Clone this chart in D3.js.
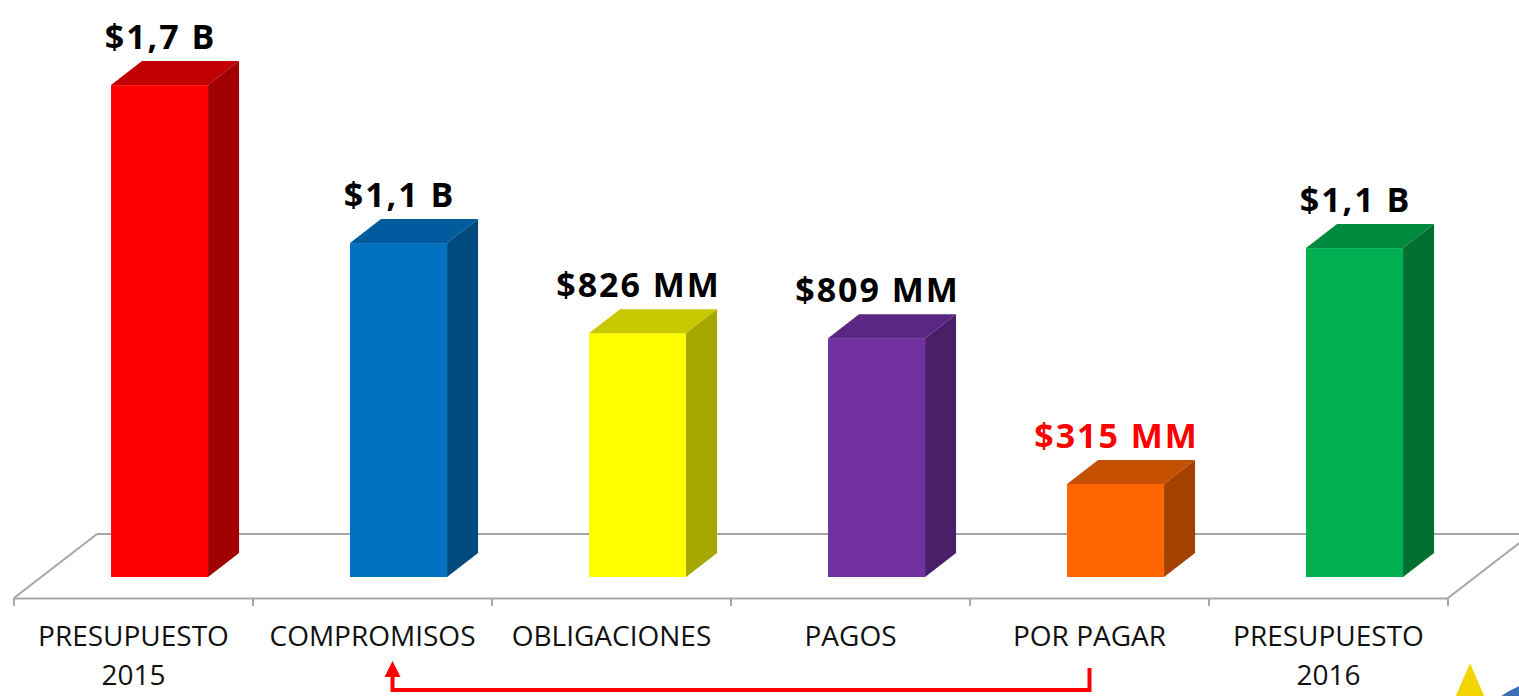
<!DOCTYPE html>
<html>
<head>
<meta charset="utf-8">
<script src="https://cdn.jsdelivr.net/npm/d3@7"></script>
<style>
  html, body { margin: 0; padding: 0; background: #fff; }
  svg { display: block; }
</style>
</head>
<body>
<svg id="chart" width="1519" height="696"></svg>
<script>
// ---- data ----
const categories = ["PRESUPUESTO 2015", "COMPROMISOS", "OBLIGACIONES", "PAGOS", "POR PAGAR", "PRESUPUESTO 2016"];
const categoryLines = [["PRESUPUESTO", "2015"], ["COMPROMISOS"], ["OBLIGACIONES"], ["PAGOS"], ["POR PAGAR"], ["PRESUPUESTO", "2016"]];
const values = [1666, 1131, 826, 809, 315, 1114];          // millions
const valueLabels = ["$1,7 B", "$1,1 B", "$826 MM", "$809 MM", "$315 MM", "$1,1 B"];

// ---- styles ----
const frontColors = ["#FF0000", "#0070C0", "#FFFF00", "#7030A0", "#FF6600", "#00B050"];
const topColors   = ["#C00000", "#005A9E", "#C8C800", "#5A2782", "#C55000", "#008A3E"];
const sideColors  = ["#A00000", "#004A80", "#A6A600", "#4A1F69", "#A34200", "#007030"];
const labelColors = ["#000", "#000", "#000", "#000", "#FF0000", "#000"];

const svg = d3.select("#chart");

// ---- scales ----
const x = d3.scaleBand().domain(categories).range([14, 1448]).padding(0);
const bw = x.bandwidth();
const yBase = 577;
const y = d3.scaleLinear().domain([0, 1700]).range([yBase, yBase - 1700 / 3.387]);

const frontY = 598, floorDx = 83, floorDy = 64;
const barDx = 31, barDy = 24;
const gridColor = "#A6A6A6";

// ---- floor ----
const floor = svg.append("g").attr("stroke", gridColor).attr("stroke-width", 2).attr("fill", "none");
const xL = x.range()[0], xR = x.range()[1];
floor.append("line").attr("x1", xL + floorDx).attr("y1", frontY - floorDy).attr("x2", xR + floorDx).attr("y2", frontY - floorDy);
floor.append("line").attr("x1", xL).attr("y1", frontY).attr("x2", xL + floorDx).attr("y2", frontY - floorDy);
floor.append("line").attr("x1", xR).attr("y1", frontY).attr("x2", xR + floorDx).attr("y2", frontY - floorDy);

// axis along the front edge
const axis = d3.axisBottom(x).tickValues([]).tickSizeOuter(0);
const axisG = svg.append("g").attr("transform", `translate(0,${frontY})`).call(axis);
axisG.select(".domain").attr("stroke", gridColor).attr("stroke-width", 2);
const boundaries = categories.map(c => x(c)).concat([xR]);
axisG.selectAll("line.tk").data(boundaries).join("line")
  .attr("class", "tk")
  .attr("x1", d => d).attr("x2", d => d)
  .attr("y1", 0).attr("y2", 8)
  .attr("stroke", gridColor).attr("stroke-width", 2);

// ---- bars ----
const bars = svg.append("g");
categories.forEach((c, i) => {
  const x0 = x(c) + bw * 0.406;
  const w = bw * 0.406;
  const yt = y(values[i]);
  const g = bars.append("g");
  g.append("rect").attr("x", x0).attr("y", yt).attr("width", w).attr("height", yBase - yt)
    .attr("fill", frontColors[i]);
  g.append("path").attr("d",
    `M${x0},${yt} L${x0 + barDx},${yt - barDy} L${x0 + w + barDx},${yt - barDy} L${x0 + w},${yt} Z`)
    .attr("fill", topColors[i]);
  g.append("path").attr("d",
    `M${x0 + w},${yt} L${x0 + w + barDx},${yt - barDy} L${x0 + w + barDx},${yBase - barDy} L${x0 + w},${yBase} Z`)
    .attr("fill", sideColors[i]);
  svg.append("text")
    .attr("x", x0 + w / 2 + 1)
    .attr("y", yt - barDy - 12)
    .attr("text-anchor", "middle")
    .attr("font-family", "'Open Sans', sans-serif")
    .attr("font-weight", "bold")
    .attr("font-size", 34)
    .attr("letter-spacing", 2)
    .attr("fill", labelColors[i])
    .text(valueLabels[i]);
});

// ---- category labels ----
categories.forEach((c, i) => {
  const t = svg.append("text")
    .attr("x", x(c) + bw / 2)
    .attr("y", 646)
    .attr("text-anchor", "middle")
    .attr("font-family", "'Open Sans', sans-serif")
    .attr("font-size", 28)
    .attr("fill", "#111");
  categoryLines[i].forEach((ln, k) => {
    t.append("tspan").attr("x", x(c) + bw / 2).attr("dy", k === 0 ? 0 : 39).text(ln);
  });
});

// ---- arrow annotation: POR PAGAR -> COMPROMISOS ----
const ax1 = x("POR PAGAR") + bw / 2;
const ax2 = x("COMPROMISOS") + bw / 2 + 20;
svg.append("path")
  .attr("d", `M${ax1},668 L${ax1},690 L${ax2},690 L${ax2},675`)
  .attr("fill", "none").attr("stroke", "#FF0000").attr("stroke-width", 4)
  .attr("stroke-linejoin", "miter");
svg.append("path")
  .attr("d", `M${ax2},661 L${ax2 + 8},677 L${ax2 - 8},677 Z`)
  .attr("fill", "#FF0000");

// ---- decorative corner shapes ----
svg.append("path").attr("d", "M1470,663 L1488,705 L1452,705 Z").attr("fill", "#F2D500");
svg.append("path").attr("d", "M1496,700 Q1508,690 1525,684 L1525,700 Z").attr("fill", "#3F6FB6");
</script>
</body>
</html>
